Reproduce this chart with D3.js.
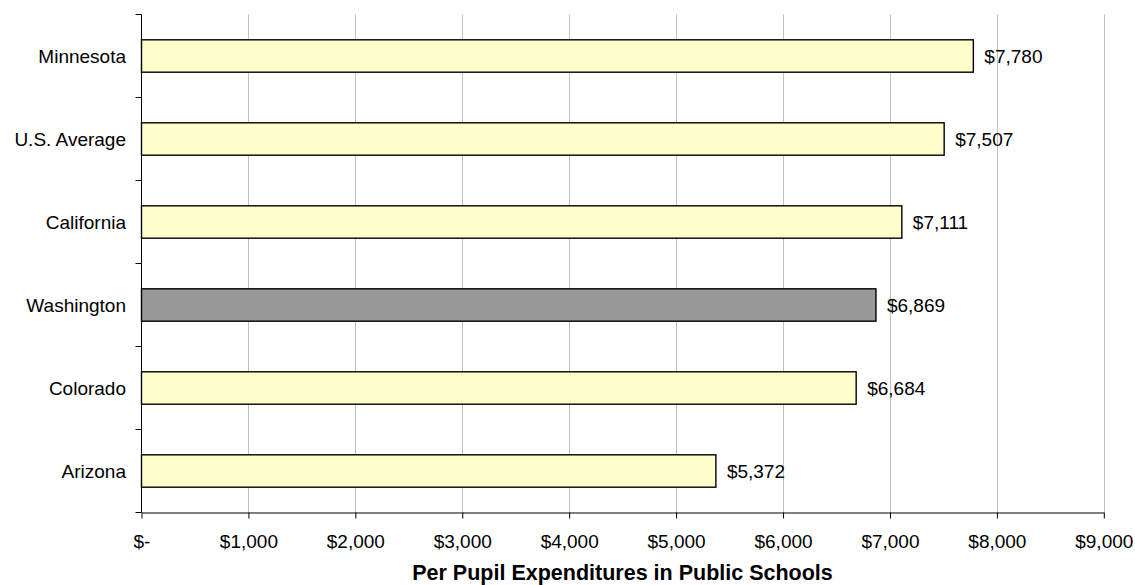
<!DOCTYPE html>
<html>
<head>
<meta charset="utf-8">
<script src="https://cdn.jsdelivr.net/npm/d3@7"></script>
<style>
  html, body { margin: 0; padding: 0; background: #fff; }
  svg { display: block; font-family: "Liberation Sans", Arial, sans-serif; }
</style>
</head>
<body>
<svg id="chart" width="1135" height="585"></svg>
<script>
// Per pupil expenditures by state
const states = ["Minnesota", "U.S. Average", "California", "Washington", "Colorado", "Arizona"];
const spending = [7780, 7507, 7111, 6869, 6684, 5372];
const highlighted = ["Washington"];
const xTicks = [0, 1000, 2000, 3000, 4000, 5000, 6000, 7000, 8000, 9000];
const xTitle = "Per Pupil Expenditures in Public Schools";

const svg = d3.select("#chart");
const plot = { left: 141.5, right: 1103.8, top: 14.5, bottom: 512.5 };
const fontSize = 19;

const x = d3.scaleLinear().domain([0, 9000]).range([plot.left, plot.right]);
const y = d3.scaleBand().domain(states).range([plot.top, plot.bottom]).paddingInner(0.61).paddingOuter(0.305);
const yb = d3.scaleBand().domain(states).range([plot.top, plot.bottom]);

const money = v => v === 0 ? "$-" : "$" + d3.format(",")(v);

// vertical gridlines
svg.append("g")
  .selectAll("line")
  .data(xTicks.filter(d => d > 0))
  .join("line")
  .attr("x1", d => Math.round(x(d)) + 0.5)
  .attr("x2", d => Math.round(x(d)) + 0.5)
  .attr("y1", plot.top)
  .attr("y2", plot.bottom)
  .attr("stroke", "#c0c0c0")
  .attr("stroke-width", 1);

// bars
svg.append("g")
  .selectAll("rect")
  .data(states)
  .join("rect")
  .attr("x", plot.left)
  .attr("y", d => y(d))
  .attr("width", (d, i) => x(spending[i]) - plot.left)
  .attr("height", y.bandwidth())
  .attr("fill", d => highlighted.includes(d) ? "#999999" : "#ffffcc")
  .attr("stroke", "#000")
  .attr("stroke-width", 1.4);

// value labels
svg.append("g")
  .selectAll("text")
  .data(states)
  .join("text")
  .attr("x", (d, i) => x(spending[i]) + 11)
  .attr("y", d => y(d) + y.bandwidth() / 2)
  .attr("dy", "0.36em")
  .attr("font-size", fontSize)
  .attr("fill", "#000")
  .text((d, i) => money(spending[i]));

// x axis
const xAxis = d3.axisBottom(x)
  .tickValues(xTicks)
  .tickFormat(money)
  .tickSizeInner(6)
  .tickSizeOuter(0)
  .tickPadding(16);
const gx = svg.append("g").attr("transform", `translate(0,${plot.bottom})`).call(xAxis);
gx.selectAll("text").attr("font-size", fontSize).attr("fill", "#000").attr("font-family", "Liberation Sans, Arial, sans-serif");
gx.selectAll("line, path").attr("stroke", "#000");

// y axis: ticks sit on band boundaries, labels at band centres
const gy = svg.append("g");
gy.append("line")
  .attr("x1", plot.left).attr("x2", plot.left)
  .attr("y1", plot.top).attr("y2", plot.bottom)
  .attr("stroke", "#000");
gy.selectAll("line.tick")
  .data(states.map(s => yb(s)).concat([plot.bottom]))
  .join("line")
  .attr("class", "tick")
  .attr("x1", plot.left - 6).attr("x2", plot.left)
  .attr("y1", d => d).attr("y2", d => d)
  .attr("stroke", "#000");
gy.selectAll("text")
  .data(states)
  .join("text")
  .attr("x", plot.left - 15.5)
  .attr("y", d => y(d) + y.bandwidth() / 2)
  .attr("dy", "0.36em")
  .attr("text-anchor", "end")
  .attr("font-size", fontSize)
  .attr("fill", "#000")
  .text(d => d);

// axis title
svg.append("text")
  .attr("x", 622.5)
  .attr("y", 579.5)
  .attr("text-anchor", "middle")
  .attr("font-size", 21.5)
  .attr("font-weight", "bold")
  .attr("fill", "#000")
  .text(xTitle);
</script>
</body>
</html>
